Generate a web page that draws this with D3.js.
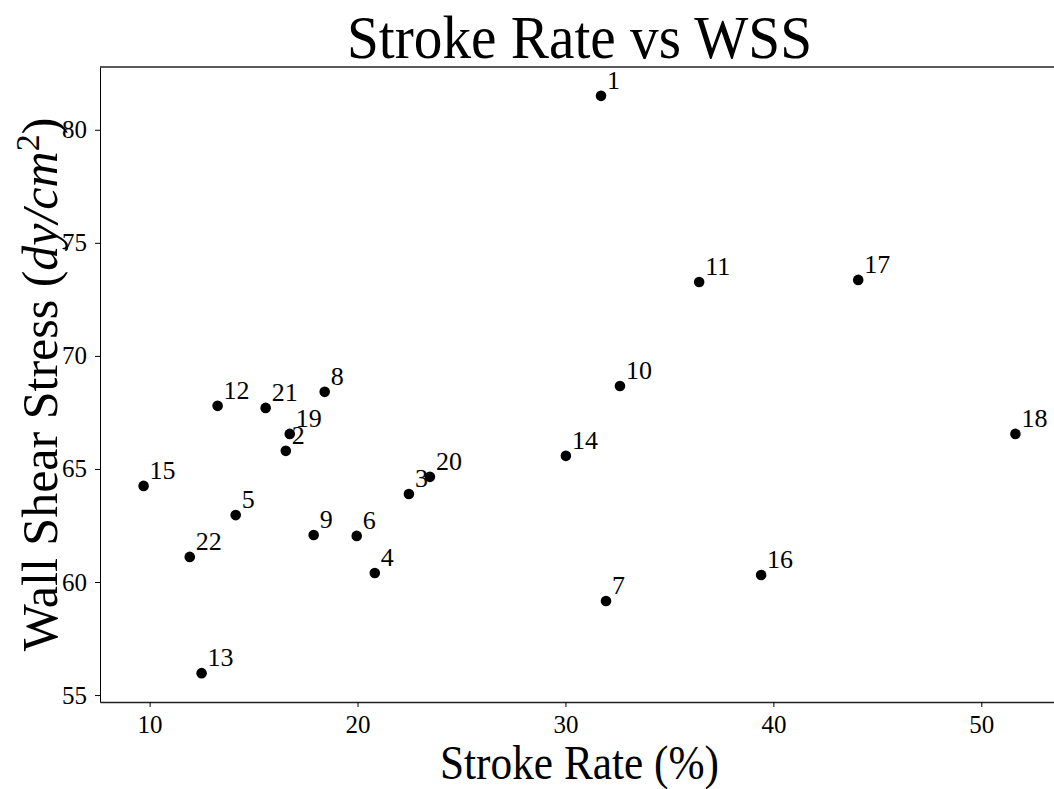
<!DOCTYPE html>
<html>
<head>
<meta charset="utf-8">
<script src="https://cdn.jsdelivr.net/npm/d3@7"></script>
<style>
  body { margin: 0; background: #fff; overflow: hidden; }
  text { font-family: "Liberation Serif", "Times New Roman", serif; fill: #000; }
</style>
</head>
<body>
<script>
// point labels, stroke rate (%) and wall shear stress (dy/cm^2)
var ids = [1, 2, 3, 4, 5, 6, 7, 8, 9, 10, 11, 12, 13, 14, 15, 16, 17, 18, 19, 20, 21, 22];
var strokeRate = [31.71, 16.55, 22.47, 20.83, 14.14, 19.96, 31.95, 18.42, 17.89, 32.62, 36.43,
                  13.27, 12.50, 30.02, 9.71, 39.41, 44.08, 51.64, 16.74, 23.48, 15.58, 11.93];
var wss = [81.50, 65.80, 63.89, 60.40, 62.96, 62.04, 59.16, 68.41, 62.08, 68.67, 73.27,
           67.79, 55.97, 65.58, 64.25, 60.31, 73.36, 66.55, 66.55, 64.65, 67.70, 61.11];
var xTicks = [10, 20, 30, 40, 50];
var yTicks = [55, 60, 65, 70, 75, 80];

var width = 1054, height = 789;
var margin = {top: 67, right: -5, bottom: 87, left: 100};

var points = ids.map(function (d, i) {
    return {id: d, x: strokeRate[i], y: wss[i]};
});

// matplotlib style 5% padding around the data
function padded(vals) {
    var e = d3.extent(vals);
    var p = (e[1] - e[0]) * 0.05;
    return [e[0] - p, e[1] + p];
}

var svg = d3.select("body").append("svg")
    .attr("width", width)
    .attr("height", height);

var x = d3.scaleLinear()
    .domain(padded(strokeRate))
    .range([margin.left, width - margin.right]);

var y = d3.scaleLinear()
    .domain(padded(wss))
    .range([height - margin.bottom, margin.top]);

// axes
var xAxis = svg.append("g")
    .attr("transform", "translate(0," + (height - margin.bottom) + ")")
    .call(d3.axisBottom(x).tickValues(xTicks).tickSize(5).tickPadding(8).tickSizeOuter(0));

var yAxis = svg.append("g")
    .attr("transform", "translate(" + margin.left + ",0)")
    .call(d3.axisLeft(y).tickValues(yTicks).tickSize(5).tickPadding(8).tickSizeOuter(0));

xAxis.select(".domain").attr("stroke", "#222").attr("stroke-width", 1.4);
yAxis.select(".domain").attr("stroke", "#000").attr("stroke-width", 1);
xAxis.selectAll(".tick line").attr("stroke", "#000");
yAxis.selectAll(".tick line").attr("stroke", "#000");
xAxis.selectAll(".tick text")
    .style("font-family", "Liberation Serif")
    .style("font-size", "25px");
yAxis.selectAll(".tick text")
    .style("font-family", "Liberation Serif")
    .style("font-size", "25px");

// top spine
svg.append("line")
    .attr("x1", margin.left)
    .attr("x2", width)
    .attr("y1", margin.top)
    .attr("y2", margin.top)
    .attr("stroke", "#222")
    .attr("stroke-width", 1.4);

// points
svg.append("g")
    .selectAll("circle")
    .data(points)
    .enter().append("circle")
    .attr("cx", function (d) { return x(d.x); })
    .attr("cy", function (d) { return y(d.y); })
    .attr("r", 5.3)
    .attr("fill", "#000");

svg.append("g")
    .selectAll("text")
    .data(points)
    .enter().append("text")
    .attr("x", function (d) { return x(d.x) + 6; })
    .attr("y", function (d) { return y(d.y) - 7; })
    .style("font-size", "26px")
    .text(function (d) { return d.id; });

// title and axis labels
svg.append("text")
    .attr("x", (margin.left + width - margin.right) / 2)
    .attr("y", 58)
    .attr("text-anchor", "middle")
    .attr("textLength", 465)
    .attr("lengthAdjust", "spacingAndGlyphs")
    .style("font-size", "62px")
    .text("Stroke Rate vs WSS");

svg.append("text")
    .attr("x", (margin.left + width - margin.right) / 2)
    .attr("y", 779)
    .attr("text-anchor", "middle")
    .attr("textLength", 279)
    .attr("lengthAdjust", "spacingAndGlyphs")
    .style("font-size", "48px")
    .text("Stroke Rate (%)");

var yl = svg.append("text")
    .attr("transform", "translate(57," + ((margin.top + height - margin.bottom) / 2) + ") rotate(-90)")
    .attr("text-anchor", "middle")
    .style("font-size", "50px");
yl.append("tspan").text("Wall Shear Stress (");
yl.append("tspan").style("font-style", "italic").text("dy/cm");
yl.append("tspan").attr("dy", -18).style("font-size", "34px").text("2");
yl.append("tspan").attr("dy", 18).text(")");
</script>
</body>
</html>
